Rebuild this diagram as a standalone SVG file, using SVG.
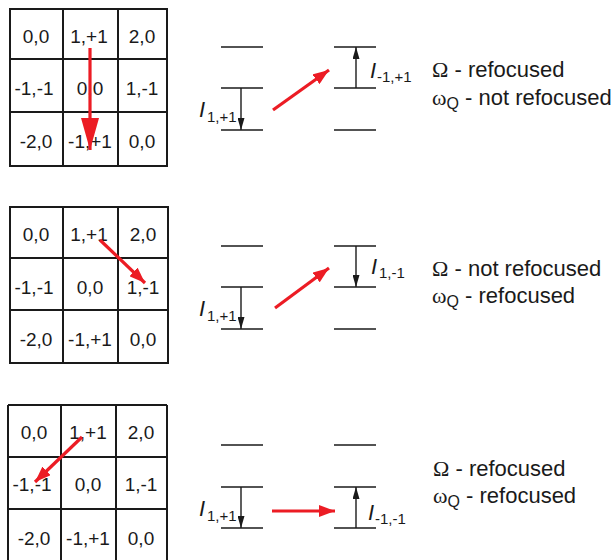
<svg xmlns="http://www.w3.org/2000/svg" width="615" height="560" viewBox="0 0 615 560">
<defs>
<style>
.g{fill:none;stroke:#1a1a1a;stroke-width:2}
.lv{stroke:#1a1a1a;stroke-width:1.6}
.ba{stroke:#1a1a1a;stroke-width:1.4}
.ra{stroke:#ec1c24;stroke-width:3.2;fill:none}
.ct{font-family:"Liberation Sans",Arial,sans-serif;font-size:19px;fill:#1a1a1a;text-anchor:middle}
.lb{font-family:"Liberation Sans",Arial,sans-serif;fill:#1a1a1a}
.tx{font-family:"Liberation Sans",Arial,sans-serif;font-size:22px;fill:#1a1a1a}
.gk{font-family:"Liberation Serif","Times New Roman",serif}
</style>
<marker id="bh" viewBox="0 0 12 7" refX="12" refY="3.5" markerWidth="12" markerHeight="7" markerUnits="userSpaceOnUse" orient="auto"><path d="M0,0L12,3.5L0,7z" fill="#1a1a1a"/></marker>
<marker id="rh" viewBox="0 0 16 12" refX="16" refY="6" markerWidth="16" markerHeight="12" markerUnits="userSpaceOnUse" orient="auto"><path d="M0,0L16,6L0,12z" fill="#ec1c24"/></marker>
<marker id="rhb" viewBox="0 0 32 18" refX="32" refY="9" markerWidth="32" markerHeight="18" markerUnits="userSpaceOnUse" orient="auto"><path d="M0,0L32,9L0,18z" fill="#ec1c24"/></marker>
</defs>

<!-- Panel 1 -->
<g id="grid1">
<rect class="g" x="10" y="9" width="157" height="157"/>
<line class="g" x1="63" y1="9" x2="63" y2="166"/>
<line class="g" x1="118" y1="9" x2="118" y2="166"/>
<line class="g" x1="10" y1="59" x2="167" y2="59"/>
<line class="g" x1="10" y1="112" x2="167" y2="112"/>
<text class="ct" x="36" y="43">0,0</text>
<text class="ct" x="89" y="43">1,+1</text>
<text class="ct" x="142" y="43">2,0</text>
<text class="ct" x="34" y="95">-1,-1</text>
<text class="ct" x="90" y="95">0,0</text>
<text class="ct" x="142" y="95">1,-1</text>
<text class="ct" x="36" y="148">-2,0</text>
<text class="ct" x="90" y="148">-1,+1</text>
<text class="ct" x="142" y="148">0,0</text>
</g>
<g id="levels1L">
<line class="lv" x1="221" y1="47" x2="263" y2="47"/>
<line class="lv" x1="221" y1="88" x2="263" y2="88"/>
<line class="lv" x1="221" y1="130" x2="263" y2="130"/>
<text class="lb" x="199" y="117" font-size="22" font-style="italic">I</text>
<text class="lb" x="207" y="122" font-size="15">1,+1</text>
</g>
<g id="levels1R">
<line class="lv" x1="334" y1="47" x2="376" y2="47"/>
<line class="lv" x1="334" y1="88" x2="376" y2="88"/>
<line class="lv" x1="334" y1="130" x2="376" y2="130"/>
<text class="lb" x="370" y="78" font-size="22" font-style="italic">I</text>
<text class="lb" x="377" y="82" font-size="15">-1,+1</text>
</g>
<g id="text1">
<text class="tx" x="432" y="77"><tspan class="gk">Ω</tspan> - refocused</text>
<text class="tx" x="432" y="105"><tspan class="gk">ω</tspan><tspan font-size="16" dy="4">Q</tspan><tspan dy="-4"> - not refocused</tspan></text>
</g>

<!-- Panel 2 -->
<g id="grid2">
<rect class="g" x="10" y="207" width="158" height="156"/>
<line class="g" x1="63" y1="207" x2="63" y2="363"/>
<line class="g" x1="118" y1="207" x2="118" y2="363"/>
<line class="g" x1="10" y1="258" x2="168" y2="258"/>
<line class="g" x1="10" y1="310" x2="168" y2="310"/>
<text class="ct" x="36" y="241">0,0</text>
<text class="ct" x="89" y="241">1,+1</text>
<text class="ct" x="143" y="241">2,0</text>
<text class="ct" x="34" y="294">-1,-1</text>
<text class="ct" x="90" y="294">0,0</text>
<text class="ct" x="143" y="294">1,-1</text>
<text class="ct" x="36" y="346">-2,0</text>
<text class="ct" x="90" y="346">-1,+1</text>
<text class="ct" x="143" y="346">0,0</text>
</g>
<g id="levels2L">
<line class="lv" x1="221" y1="246" x2="263" y2="246"/>
<line class="lv" x1="221" y1="287" x2="263" y2="287"/>
<line class="lv" x1="221" y1="329" x2="263" y2="329"/>
<text class="lb" x="199" y="316" font-size="22" font-style="italic">I</text>
<text class="lb" x="207" y="321" font-size="15">1,+1</text>
</g>
<g id="levels2R">
<line class="lv" x1="334" y1="246" x2="376" y2="246"/>
<line class="lv" x1="334" y1="287" x2="376" y2="287"/>
<line class="lv" x1="334" y1="329" x2="376" y2="329"/>
<text class="lb" x="371" y="274" font-size="22" font-style="italic">I</text>
<text class="lb" x="379" y="278" font-size="15">1,-1</text>
</g>
<g id="text2">
<text class="tx" x="432" y="276"><tspan class="gk">Ω</tspan> - not refocused</text>
<text class="tx" x="432" y="303"><tspan class="gk">ω</tspan><tspan font-size="16" dy="4">Q</tspan><tspan dy="-4"> - refocused</tspan></text>
</g>

<!-- Panel 3 -->
<g id="grid3">
<line class="g" x1="8" y1="405" x2="167" y2="405"/>
<line class="g" x1="8" y1="457" x2="167" y2="457"/>
<line class="g" x1="8" y1="509" x2="167" y2="509"/>
<line class="g" x1="8" y1="405" x2="8" y2="560"/>
<line class="g" x1="61" y1="405" x2="61" y2="560"/>
<line class="g" x1="116" y1="405" x2="116" y2="560"/>
<line class="g" x1="167" y1="405" x2="167" y2="560"/>
<text class="ct" x="34" y="439">0,0</text>
<text class="ct" x="88" y="439">1,+1</text>
<text class="ct" x="141" y="439">2,0</text>
<text class="ct" x="32" y="491">-1,-1</text>
<text class="ct" x="88" y="491">0,0</text>
<text class="ct" x="141" y="491">1,-1</text>
<text class="ct" x="34" y="545">-2,0</text>
<text class="ct" x="88" y="545">-1,+1</text>
<text class="ct" x="141" y="545">0,0</text>
</g>
<g id="levels3L">
<line class="lv" x1="221" y1="445" x2="263" y2="445"/>
<line class="lv" x1="221" y1="487" x2="263" y2="487"/>
<line class="lv" x1="221" y1="528" x2="263" y2="528"/>
<text class="lb" x="199" y="516" font-size="22" font-style="italic">I</text>
<text class="lb" x="207" y="521" font-size="15">1,+1</text>
</g>
<g id="levels3R">
<line class="lv" x1="334" y1="445" x2="376" y2="445"/>
<line class="lv" x1="334" y1="487" x2="376" y2="487"/>
<line class="lv" x1="334" y1="528" x2="376" y2="528"/>
<text class="lb" x="368" y="520" font-size="22" font-style="italic">I</text>
<text class="lb" x="375" y="524" font-size="15">-1,-1</text>
</g>
<g id="text3">
<text class="tx" x="433" y="476"><tspan class="gk">Ω</tspan> - refocused</text>
<text class="tx" x="433" y="503"><tspan class="gk">ω</tspan><tspan font-size="16" dy="4">Q</tspan><tspan dy="-4"> - refocused</tspan></text>
</g>

<g id="connectors">
<line class="ra" x1="90" y1="48" x2="90" y2="150" marker-end="url(#rhb)"/>
<line class="ba" x1="241" y1="88" x2="241" y2="130" marker-end="url(#bh)"/>
<line class="ba" x1="356" y1="88" x2="356" y2="47" marker-end="url(#bh)"/>
<line class="ra" x1="273" y1="110" x2="329" y2="70" marker-end="url(#rh)"/>

<line class="ra" x1="100" y1="240" x2="145" y2="283" marker-end="url(#rh)"/>
<line class="ba" x1="241" y1="287" x2="241" y2="329" marker-end="url(#bh)"/>
<line class="ba" x1="356" y1="246" x2="356" y2="287" marker-end="url(#bh)"/>
<line class="ra" x1="275" y1="308" x2="329" y2="268" marker-end="url(#rh)"/>

<line class="ra" x1="82" y1="437" x2="35" y2="482" marker-end="url(#rh)"/>
<line class="ba" x1="241" y1="487" x2="241" y2="528" marker-end="url(#bh)"/>
<line class="ba" x1="356" y1="528" x2="356" y2="487" marker-end="url(#bh)"/>
<line class="ra" x1="272" y1="511" x2="335" y2="511" marker-end="url(#rh)"/>
</g>
</svg>
